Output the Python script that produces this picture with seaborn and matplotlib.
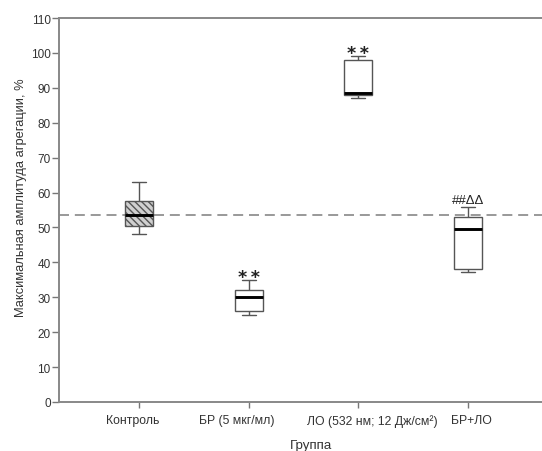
import numpy as np
import pandas as pd
import matplotlib
matplotlib.use("Agg")
import matplotlib.pyplot as plt
import matplotlib.transforms as mtransforms
import seaborn as sns

groups = ["Контроль", "БР (5 мкг/мл)", "ЛО (532 нм; 12 Дж/см²)", "БР+ЛО"]
# five-number summaries: min, Q1, median, Q3, max
control_vals = [48.0, 50.5, 53.5, 57.5, 63.0]
br_vals = [25.0, 26.0, 30.0, 32.0, 35.0]
lo_vals = [87.2, 88.0, 88.5, 98.0, 99.0]
brlo_vals = [37.3, 38.2, 49.6, 53.0, 55.8]
reference_level = 53.5
annotations = ["", "**", "**", "##ΔΔ"]
yticks = list(range(0, 111, 10))

series = [control_vals, br_vals, lo_vals, brlo_vals]
df = pd.DataFrame({
    "Группа": np.repeat(groups, [len(s) for s in series]),
    "value": np.concatenate(series),
})

sns.set_theme(style="white")
plt.rcParams["font.family"] = ["Liberation Sans", "DejaVu Sans"]
plt.rcParams["hatch.color"] = "#333333"
plt.rcParams["hatch.linewidth"] = 1.0

fig = plt.figure(figsize=(5.42, 4.52), dpi=100)
axw = 1.0 - 59 / 542 + 0.002
ax = fig.add_axes([59 / 542, 49 / 452, axw, (403 - 19) / 452])

sns.boxplot(data=df, x="Группа", y="value", order=groups, ax=ax,
            width=0.255, whis=(0, 100), color="white", linecolor="#555555",
            linewidth=1.0, showfliers=False,
            medianprops=dict(color="black", linewidth=2.1))

patches = [p for p in ax.patches]
if patches:
    patches[0].set_facecolor("#d0d0d0")
    patches[0].set_hatch("\\\\\\\\\\")

ax.axhline(reference_level, color="#888888", linestyle=(0, (6, 3.5)), linewidth=1.2, zorder=0)

for i, (lab, s) in enumerate(zip(annotations, series)):
    if not lab:
        continue
    if lab == "**":
        ax.annotate("*\u2009*", (i, max(s)), xytext=(0, -1.5), textcoords="offset points",
                    ha="center", va="baseline", fontsize=12.5, fontweight="bold", color="#222222",
                    family="DejaVu Sans")
    else:
        ax.annotate(lab, (i, max(s)), xytext=(0, 1), textcoords="offset points",
                    ha="center", va="bottom", fontsize=9.5, color="#222222")

ax.set_ylim(0, 110)
ax.set_xlim(-80 / 110, (542 - 139) / 110 + 0.02)
ax.set_yticks(yticks)
ax.set_yticklabels([str(t) for t in yticks], fontsize=8.5, color="#333333")
ax.tick_params(axis="x", labelsize=8.8, colors="#333333", length=4, width=1, color="#777777",
               direction="out", bottom=True, pad=5)
ax.tick_params(axis="y", length=5, width=1, color="#777777", direction="out", left=True, pad=1)
for side in ["left", "bottom", "top"]:
    ax.spines[side].set_color("#888888")
    ax.spines[side].set_linewidth(1.4)
ax.spines["right"].set_visible(False)

# small horizontal shifts of category labels as in the reference (pixels)
label_shifts = [-6, -12, 14, 3]
for lbl, dx in zip(ax.get_xticklabels(), label_shifts):
    lbl.set_transform(lbl.get_transform() + mtransforms.ScaledTranslation(dx / 100, 0, fig.dpi_scale_trans))

ax.set_xlabel("Группа", fontsize=9.6, color="#333333", va="top")
ax.xaxis.set_label_coords((311 - 59) / (axw * 542), (403 - 440) / 384)
ax.set_ylabel("Максимальная амплитуда агрегации, %", fontsize=9.3, color="#333333")
ax.yaxis.set_label_coords(-(59 - 27) / (axw * 542), (403 - 198) / 384)

fig.savefig("out.png", dpi=100)
